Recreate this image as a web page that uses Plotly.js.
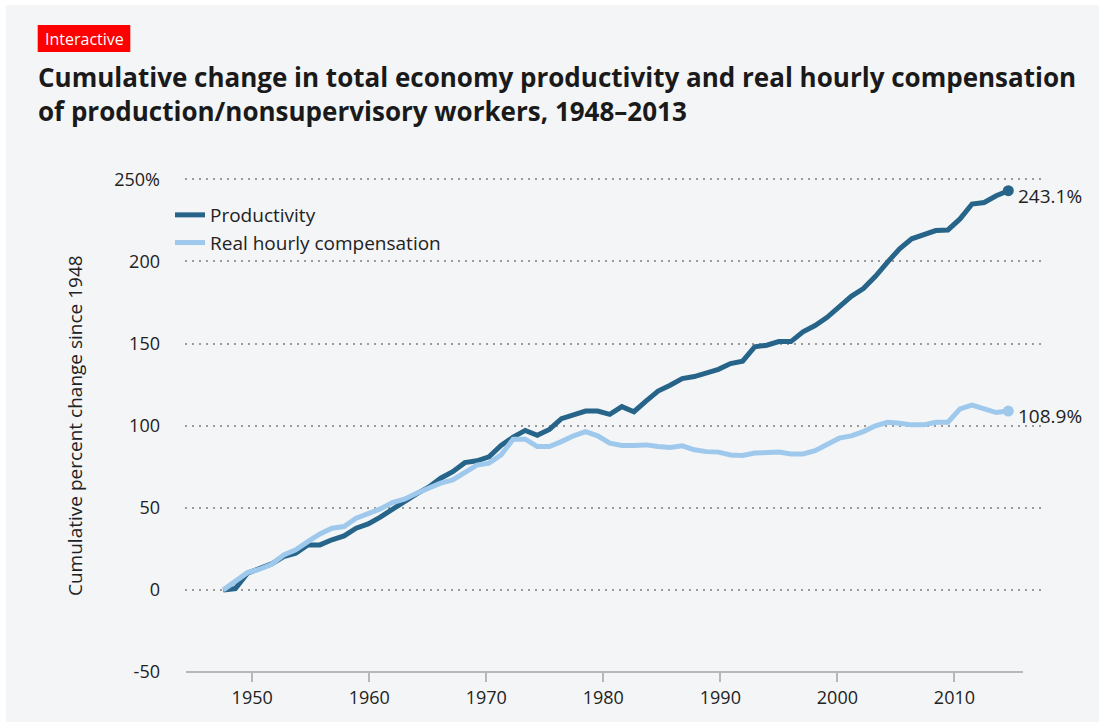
<!DOCTYPE html>
<html>
<head>
<meta charset="utf-8">
<script src="https://cdn.plot.ly/plotly-3.0.1.min.js"></script>
<style>
  html, body { margin: 0; padding: 0; background: #ffffff; }
  #chart { position: absolute; left: 6px; top: 5px; width: 1093px; height: 717px; }
</style>
</head>
<body>
<div id="chart"></div>
<script>
// ---- Data ----
const years = [];
for (let y = 1948; y <= 2013; y++) years.push(y);

const productivity = [
  0, 0.8, 10.2, 13.2, 15.8, 20.3, 22.3, 27.4, 27.4, 30.5,
  32.9, 37.6, 40.2, 44.3, 48.7, 53.8, 58.5, 62.5, 68.0, 72.0,
  77.5, 78.6, 81.0, 88.0, 93.0, 97.1, 94.1, 97.7, 104.3, 106.9,
  108.9, 108.9, 106.9, 111.6, 108.5, 115.0, 121.1, 124.6, 128.7, 129.9,
  132.3, 134.3, 137.8, 139.3, 148.0, 149.0, 151.2, 151.2, 157.2, 161.0,
  166.0, 172.5, 178.8, 183.5, 191.0, 199.6, 207.7, 213.8, 216.4, 218.8,
  219.2, 225.9, 235.0, 235.9, 240.0, 243.1
];

const compensation = [
  0, 5.1, 10.5, 12.6, 15.6, 21.3, 24.4, 29.4, 34.1, 37.6,
  38.6, 43.7, 46.3, 49.3, 53.2, 55.2, 58.9, 61.9, 65.0, 67.0,
  71.5, 76.0, 77.2, 82.2, 91.8, 91.8, 87.3, 87.3, 90.3, 93.8,
  96.4, 93.8, 89.3, 87.9, 87.9, 88.3, 87.3, 86.7, 87.7, 85.3,
  84.2, 83.9, 82.2, 81.8, 83.3, 83.3, 83.9, 82.8, 82.8, 84.8,
  88.9, 92.4, 93.8, 96.4, 99.9, 102.1, 101.5, 100.5, 100.5, 102.1,
  102.1, 110.2, 112.5, 110.0, 108.0, 108.9
];

const seriesNames = ['Productivity', 'Real hourly compensation'];
const yTickVals = [-50, 0, 50, 100, 150, 200, 250];
const yTickText = ['-50', '0', '50', '100', '150', '200', '250%'];
const gridVals = [0, 50, 100, 150, 200, 250];
const xTickVals = [1950, 1960, 1970, 1980, 1990, 2000, 2010];
const xTickText = ['1950', '1960', '1970', '1980', '1990', '2000', '2010'];

const titleText = 'Cumulative change in total economy productivity and real hourly compensation<br>of production/nonsupervisory workers, 1948–2013';
const yTitleText = 'Cumulative percent change since 1948';
const badgeText = 'Interactive';

// ---- Styles ----
const DARK = '#276489';
const LIGHT = '#9fc9ec';
const FONT = 'Open Sans, Noto Sans, sans-serif';
const TXT = '#222222';

const last = years.length - 1;

const traces = [
  {x: years, y: productivity, name: seriesNames[0], type: 'scatter', mode: 'lines',
   line: {color: DARK, width: 5}, xaxis: 'x', yaxis: 'y', hoverinfo: 'x+y'},
  {x: years, y: compensation, name: seriesNames[1], type: 'scatter', mode: 'lines',
   line: {color: LIGHT, width: 5}, xaxis: 'x', yaxis: 'y', hoverinfo: 'x+y'},
  {x: [years[last]], y: [productivity[last]], type: 'scatter', mode: 'markers',
   marker: {color: DARK, size: 11}, showlegend: false, cliponaxis: false, hoverinfo: 'skip'},
  {x: [years[last]], y: [compensation[last]], type: 'scatter', mode: 'markers',
   marker: {color: LIGHT, size: 11}, showlegend: false, cliponaxis: false, hoverinfo: 'skip'},
  // carries the year-label axis (x2) and the dotted-grid axis (y2); draws nothing
  {x: years, y: productivity, type: 'scatter', mode: 'none', xaxis: 'x2', yaxis: 'y2',
   showlegend: false, hoverinfo: 'skip'}
];

// plot area in page pixels: x 185..1042, y 170..672
const PX0 = 185, PW = 857, PY1 = 672, PH = 502;
const px = v => (v - PX0) / PW;
const py = v => (PY1 - v) / PH;

const layout = {
  width: 1093, height: 717,
  paper_bgcolor: '#f4f5f7', plot_bgcolor: '#f4f5f7',
  margin: {l: 179, r: 57, t: 165, b: 50},
  font: {family: FONT, color: TXT, size: 17},
  title: {
    text: titleText,
    font: {family: FONT, size: 26, color: '#1a1a1a', weight: 'bold'},
    xref: 'container', x: 32 / 1093, xanchor: 'left',
    yref: 'container', y: 1 - 82 / 717, yanchor: 'top'
  },
  showlegend: true,
  legend: {
    x: px(170), y: py(196), xanchor: 'left', yanchor: 'top',
    bgcolor: 'rgba(0,0,0,0)', font: {family: FONT, size: 19, color: TXT},
    traceorder: 'normal'
  },
  xaxis: {
    range: [1944.829, 2015.79], showgrid: false, zeroline: false,
    showticklabels: false, ticks: '', showline: false, fixedrange: true
  },
  xaxis2: {
    overlaying: 'x', anchor: 'y2', side: 'bottom',
    range: [1944.26, 2017.48],
    tickvals: xTickVals, ticktext: xTickText,
    ticks: 'outside', ticklen: 9, tickwidth: 2, tickcolor: '#b8b8b8',
    showgrid: false, zeroline: false, showline: false,
    tickfont: {family: FONT, size: 18, color: TXT}, fixedrange: true
  },
  yaxis: {
    range: [-50, 255.7], tickvals: yTickVals, ticktext: yTickText,
    showgrid: false, zeroline: false, ticks: '', showline: false,
    ticklabelstandoff: 24,
    tickfont: {family: FONT, size: 18, color: TXT}, fixedrange: true
  },
  yaxis2: {
    overlaying: 'y', anchor: 'x2', range: [-50, 255.7],
    tickvals: gridVals, showticklabels: false, ticks: '',
    showgrid: true, gridcolor: '#9a9a9a', gridwidth: 2, griddash: '1.5px,5.5px',
    zeroline: false, showline: false, fixedrange: true
  },
  shapes: [
    {type: 'line', xref: 'paper', yref: 'paper', x0: px(186), x1: px(1023), y0: 0, y1: 0,
     line: {color: '#b8b8b8', width: 2}},
    {type: 'rect', xref: 'paper', yref: 'paper', x0: px(37.7), x1: px(130.3), y0: py(52), y1: py(25),
     fillcolor: '#ff0000', line: {width: 0}, layer: 'above'}
  ],
  annotations: [
    {xref: 'paper', yref: 'paper', x: px(84), y: py(38.5), xanchor: 'center', yanchor: 'middle',
     text: badgeText, showarrow: false, font: {family: FONT, size: 16, color: '#ffffff'}},
    {xref: 'paper', yref: 'paper', x: px(75), y: py(426), xanchor: 'center', yanchor: 'middle',
     text: yTitleText, textangle: -90, showarrow: false, font: {family: FONT, size: 19, color: TXT}},
    {x: years[last], y: productivity[last], xref: 'x', yref: 'y', xanchor: 'left', yanchor: 'middle',
     xshift: 8, yshift: -5, text: productivity[last].toFixed(1) + '%', showarrow: false,
     font: {family: FONT, size: 19, color: TXT}},
    {x: years[last], y: compensation[last], xref: 'x', yref: 'y', xanchor: 'left', yanchor: 'middle',
     xshift: 8, yshift: -5, text: compensation[last].toFixed(1) + '%', showarrow: false,
     font: {family: FONT, size: 19, color: TXT}}
  ]
};

Plotly.newPlot('chart', traces, layout, {displayModeBar: false, responsive: false});
</script>
</body>
</html>
